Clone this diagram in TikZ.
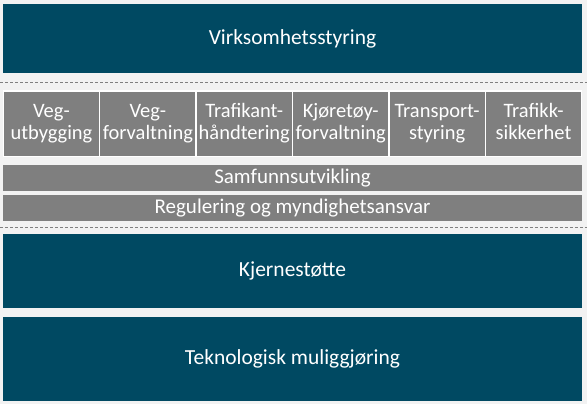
\documentclass[tikz,border=0pt]{standalone}
\usepackage{fontspec}
\setmainfont{Carlito}
\definecolor{petrol}{RGB}{0,73,98}
\definecolor{lagfarge}{RGB}{127,127,127}
\definecolor{bakgrunn}{RGB}{242,242,242}

\begin{document}
\begin{tikzpicture}[x=1pt,y=-1pt,
	lag/.style={fill=petrol,text=white,minimum width=579pt,inner sep=0pt,outer sep=0pt,font=\fontsize{21.5}{25}\selectfont},
	stolpe/.style={fill=lagfarge,draw=white,line width=1.2pt,text=white,minimum width=96.5pt,minimum height=66pt,inner sep=0pt,outer sep=0pt,align=center,font=\fontsize{20.5}{22}\selectfont},
	bjelke/.style={fill=lagfarge,text=white,minimum width=579pt,minimum height=26pt,inner sep=0pt,outer sep=0pt,font=\fontsize{21}{24}\selectfont},
	skille/.style={draw=gray,dash pattern=on 3pt off 2pt,line width=0.5pt}]
	\fill[bakgrunn] (0,0) rectangle (587,404);
	\node[lag,minimum height=69pt] (virk) at (292.5,38.5) {Virksomhetsstyring};
	\draw[skille] (0,82) -- (587,82);
	\foreach \navn/\tekst [count=\i] in {utbygging/Veg-\\utbygging, forvaltning/Veg-\\forvaltning, trafikant/Trafikant-\\håndtering, kjoretoy/Kjøretøy-\\forvaltning, transport/Transport-\\styring, sikkerhet/Trafikk-\\sikkerhet}
		\node[stolpe,minimum height=66pt] (\navn) at ({3+(\i-0.5)*96.5},124) {\raisebox{-3pt}{\begin{tabular}{@{}c@{}}\tekst\end{tabular}}};
	\node[bjelke] (samfunn) at (292.5,178) {Samfunnsutvikling};
	\node[bjelke] (regulering) at (292.5,208) {Regulering og myndighetsansvar};
	\draw[skille] (0,227) -- (587,227);
	\node[lag,minimum height=74pt] (kjerne) at (292.5,271) {Kjernestøtte};
	\node[lag,minimum height=84pt] (tek) at (292.5,359) {Teknologisk muliggjøring};
\end{tikzpicture}
\end{document}
